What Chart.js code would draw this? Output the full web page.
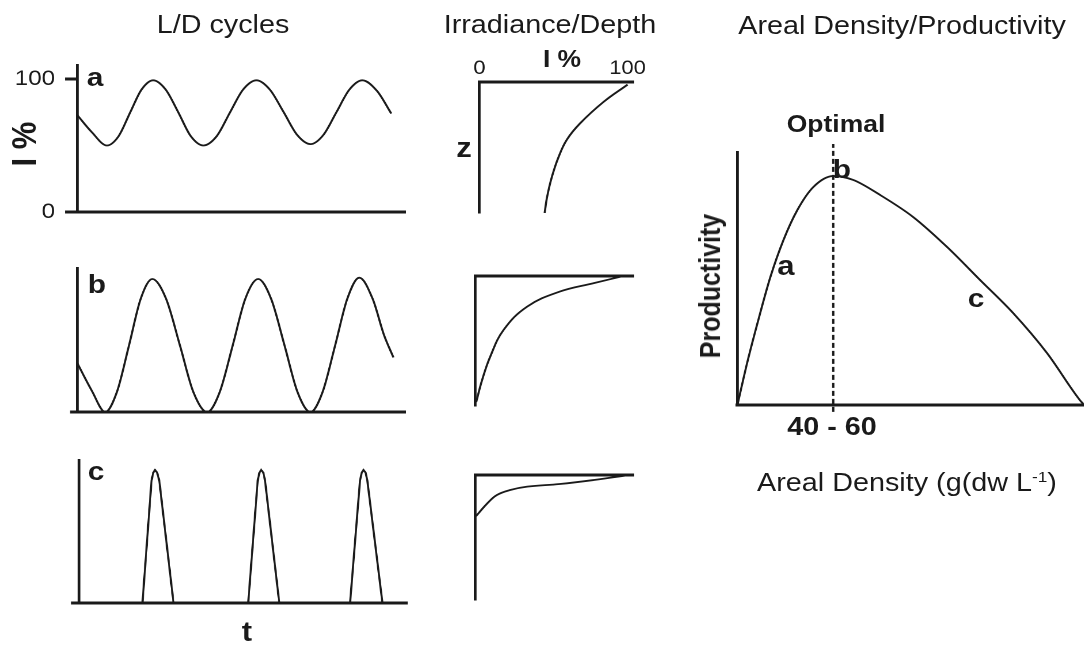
<!DOCTYPE html>
<html>
<head>
<meta charset="utf-8">
<script src="https://cdn.jsdelivr.net/npm/chart.js@4.4.1/dist/chart.umd.min.js"></script>
<style>
html, body { margin: 0; padding: 0; background: #fff; overflow: hidden; }
/* the original figure is stretched sideways, so the whole page is too */
#page { position: absolute; left: 0; top: 0; width: 943px; height: 646px;
        transform: scaleX(1.15); transform-origin: 0 0;
        font-family: "Liberation Sans", Arial, sans-serif; color: #1a1a1a; }
.box { position: absolute; }
.lbl { position: absolute; white-space: nowrap; line-height: 1; }
</style>
</head>
<body>
<div id="page"></div>
<script>
const SX = 1.15;
const INK = '#1a1a1a';

// L/D cycles: time (h) and light (I %)
const tA = [0, 3.4, 6.9, 9.6, 12.3, 14.9, 17.6, 20.5, 23.4, 26.3, 29.2, 32.3, 35.4, 38.4, 41.5, 44.6, 47.8, 50.9, 54, 57, 60, 63, 66, 69.4, 72.7];
const lightA = [73, 60, 50, 57, 75, 92, 99, 92, 75, 57, 50, 57, 75, 92, 99, 92, 75, 58, 51, 58, 75, 92, 99, 91, 74];
const tB = [0, 3.4, 6.5, 9.2, 12, 14.7, 17.4, 20.6, 23.8, 26.9, 30.1, 33, 36, 38.9, 41.9, 44.9, 48, 51, 54, 56.8, 59.7, 62.5, 65.3, 68.4, 71, 73.2];
const lightB = [37, 16, 0, 15, 50, 85, 100, 85, 50, 15, 0, 15, 50, 85, 100, 85, 50, 15, 0, 15, 50, 85, 101, 85, 58, 41];
const tC = [0, 14.7, 16.8, 17.2, 17.6, 18.1, 18.6, 21.9, 39.2, 41.4, 41.8, 42.2, 42.7, 43.1, 46.4, 62.8, 65.1, 65.5, 65.9, 66.4, 66.8, 70.3, 76];
const lightC = [0, 0, 92, 98, 100, 98, 92, 0, 0, 92, 98, 100, 98, 92, 0, 0, 92, 98, 100, 98, 92, 0, 0];
const ldTicks = [0, 100];

// Irradiance vs depth (I %, z)
const irr1 = [100, 84, 68, 59, 53.5, 49, 45.7, 44];
const depth1 = [2, 15, 31.5, 44, 57, 72, 87.5, 100];
const irr2 = [100, 80, 57, 35, 19, 10, 4.5, 0.5];
const depth2 = [0, 5.5, 12, 23.5, 41.5, 62, 80, 97];
const irr3 = [104, 80, 57, 35, 23.5, 14.5, 8, 2, 0.3];
const depth3 = [0, 4, 7.2, 9.3, 12, 16, 22.7, 30.7, 33];
const irrTicks = [0, 100];

// Areal density (g dw / L) vs productivity
const density = [0, 5.2, 10.9, 17.2, 24, 31.3, 39.6, 50, 60.4, 74.5, 91.7, 109.4, 126.6, 143.8, 161.5, 178.6, 181];
const productivity = [0, 18.8, 37.1, 55.9, 72, 85.2, 95.2, 100, 98.3, 91.7, 82.1, 69, 54.6, 40.2, 22.7, 2.2, 0];
const optimalDensity = 50;

Chart.defaults.font.family = '"Liberation Sans", Arial, sans-serif';
Chart.defaults.color = INK;

const page = document.getElementById('page');

function label(html, x, y, size, bold, rotate) {
  const d = document.createElement('div');
  d.className = 'lbl';
  d.innerHTML = html;
  d.style.left = (x / SX) + 'px';
  d.style.top = y + 'px';
  d.style.fontSize = size + 'px';
  if (bold) d.style.fontWeight = 'bold';
  d.style.transform = 'translate(-50%,-50%)' + (rotate ? ' rotate(-90deg)' : '');
  page.appendChild(d);
}

const series = (xs, ys, extra) => Object.assign({
  data: xs.map((x, i) => ({ x: x, y: ys[i] })),
  showLine: true, pointRadius: 0, borderColor: INK, borderWidth: 1.8, fill: false
}, extra);

// box and area are in picture pixels: [left, top, width, height] and [left, top, right, bottom]
function panel(box, area, scales, datasets) {
  const wrap = document.createElement('div');
  wrap.className = 'box';
  wrap.style.left = (box[0] / SX) + 'px';
  wrap.style.top = box[1] + 'px';
  wrap.style.width = (box[2] / SX) + 'px';
  wrap.style.height = box[3] + 'px';
  const cv = document.createElement('canvas');
  wrap.appendChild(cv);
  page.appendChild(wrap);

  const pad = {
    left: (area[0] - box[0]) / SX, top: area[1] - box[1],
    right: (box[0] + box[2] - area[2]) / SX, bottom: box[1] + box[3] - area[3]
  };
  const padding = Object.assign({}, pad);
  // each axis takes exactly the room on its side, so the plot area lands where it should
  Object.entries(scales).forEach(([id, s]) => {
    const side = s.position || (id === 'x' ? 'bottom' : 'left');
    padding[side] = 0;
    s.afterFit = sc => {
      if (sc.isHorizontal()) sc.height = pad[side]; else sc.width = pad[side];
      sc.paddingTop = sc.paddingBottom = sc.paddingLeft = sc.paddingRight = 0;
    };
  });

  return new Chart(cv, {
    type: 'scatter',
    data: { datasets },
    options: {
      animation: false, responsive: true, maintainAspectRatio: false,
      devicePixelRatio: 2, events: [],
      layout: { padding },
      plugins: { legend: { display: false }, tooltip: { enabled: false } },
      scales
    }
  });
}

const plainAxis = (extra) => Object.assign({
  type: 'linear', ticks: { display: false },
  grid: { drawOnChartArea: false, drawTicks: false },
  border: { color: INK, width: 3 }
}, extra);

function ldScales(yMax, ticks, tickLen, showLabels) {
  return {
    x: plainAxis({ min: 0, max: 76 }),
    y: {
      type: 'linear', min: 0, max: yMax,
      afterBuildTicks: s => { s.ticks = ticks.map(v => ({ value: v })); },
      ticks: { display: showLabels, autoSkip: false, padding: 10 / SX, font: { size: 21 }, color: INK },
      grid: { drawOnChartArea: false, drawTicks: true, tickLength: tickLen / SX, tickWidth: 3, tickColor: INK },
      border: { color: INK, width: 2.4 }
    }
  };
}

// L/D cycles
panel([0, 55, 410, 165], [77, 65, 405, 212], ldScales(110.5, ldTicks, 12, true),
  [series(tA, lightA, { cubicInterpolationMode: 'monotone' })]);
panel([0, 255, 410, 165], [77, 268, 405, 412], ldScales(108.3, [0], 7, false),
  [series(tB, lightB, { cubicInterpolationMode: 'monotone' })]);
panel([0, 450, 412, 165], [79, 460, 407, 603], ldScales(107.5, [0], 8, false),
  [series(tC, lightC, { tension: 0 })]);

// Irradiance / depth
function irScales(xMax, showTicks) {
  return {
    x: {
      type: 'linear', position: 'top', min: 0, max: xMax,
      afterBuildTicks: s => { s.ticks = irrTicks.map(v => ({ value: v })); },
      ticks: { display: showTicks, autoSkip: false, maxRotation: 0, padding: 2, font: { size: 19 }, color: INK },
      grid: { drawOnChartArea: false, drawTicks: false },
      border: { color: INK, width: 3 }
    },
    y: plainAxis({ min: 0, max: 100, reverse: true, border: { color: INK, width: 2.4 } })
  };
}
panel([440, 50, 215, 175], [479, 82, 633, 213], irScales(104, true),
  [series(irr1, depth1, { tension: 0.4 })]);
panel([440, 265, 215, 150], [475, 276, 633, 406], irScales(106.8, false),
  [series(irr2, depth2, { tension: 0.4 })]);
panel([440, 465, 215, 145], [475, 475, 633, 600], irScales(106.8, false),
  [series(irr3, depth3, { tension: 0.4 })]);

// Areal density / productivity
panel([700, 130, 384, 295], [737, 152, 1084, 405], {
    x: plainAxis({ min: 0, max: 180.7 }),
    y: plainAxis({ min: 0, max: 110.5, border: { color: INK, width: 2.4 } })
  }, [
    series(density, productivity, { cubicInterpolationMode: 'monotone' }),
    series([optimalDensity, optimalDensity], [-3, 114], { borderDash: [5, 3], borderWidth: 2, clip: false })
  ]);

// titles and annotations
label('L/D cycles', 223, 24, 25);
label('Irradiance/Depth', 550, 24, 25);
label('Areal Density/Productivity', 902, 25, 25);
label('I %', 24, 144, 31, true, true);
label('a', 95, 77, 26, true);
label('b', 97, 284, 26, true);
label('c', 96, 471, 26, true);
label('t', 247, 632, 27, true);
label('I %', 562, 59, 23, true);
label('z', 464, 148, 27, true);
label('Optimal', 836, 124, 23, true);
label('b', 842, 169, 26, true);
label('a', 786, 266, 27, true);
label('c', 976, 298, 26, true);
label('40 - 60', 832, 426, 25, true);
label('Productivity', 711, 286, 25, true, true);
label('Areal Density (g(dw L<span style="font-size:15px;vertical-align:9px">-1</span>)', 907, 482, 25);
</script>
</body>
</html>
